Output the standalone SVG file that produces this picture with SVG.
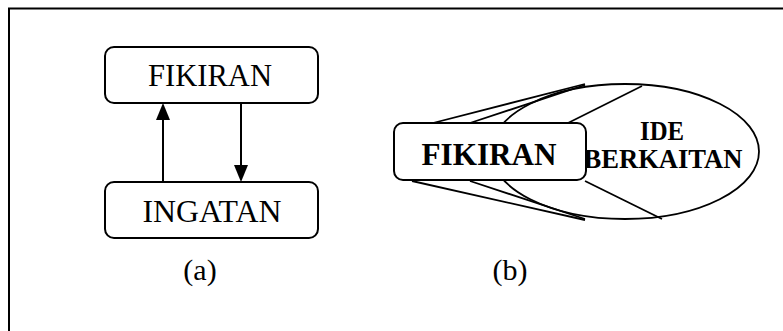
<svg xmlns="http://www.w3.org/2000/svg" width="783" height="331" viewBox="0 0 783 331">
<style>
.box{fill:#fff;stroke:#000;stroke-width:2}
.ln{stroke:#000;stroke-width:2;fill:none}
.lb{stroke:#000;stroke-width:1.8;fill:none}
.head{fill:#000}
.t{font-family:"Liberation Serif","Times New Roman",serif;fill:#000;text-anchor:middle}
.b{font-weight:bold}
</style>
<rect width="783" height="331" fill="#fff"/>
<path d="M9,340 V8.5 H790" class="ln"/>
<g id="node-fikiran-a">
<rect x="105" y="47" width="213" height="56" rx="9" class="box"/>
<text x="210" y="86" class="t" font-size="31" textLength="124" lengthAdjust="spacingAndGlyphs">FIKIRAN</text>
</g>
<g id="node-ingatan">
<rect x="105" y="182" width="213" height="56" rx="9" class="box"/>
<text x="212" y="222" class="t" font-size="31" textLength="139" lengthAdjust="spacingAndGlyphs">INGATAN</text>
</g>
<g id="connectors">
<line x1="163" y1="182" x2="163" y2="118" class="ln"/>
<path class="head" d="M156,120 L170,120 L163,103 Z"/>
<line x1="241" y1="103" x2="241" y2="167" class="ln"/>
<path class="head" d="M234,165 L248,165 L241,182 Z"/>
</g>
<g id="node-ide">
<ellipse cx="625" cy="151.5" rx="134" ry="67.5" class="lb"/>
<text x="662" y="140" class="t b" font-size="27" textLength="44" lengthAdjust="spacingAndGlyphs">IDE</text>
<text x="663" y="168" class="t b" font-size="27" textLength="159" lengthAdjust="spacingAndGlyphs">BERKAITAN</text>
</g>
<g id="connectors-b">
<line x1="433" y1="123" x2="585" y2="84" class="lb"/>
<line x1="470" y1="123" x2="585" y2="85" class="lb"/>
<line x1="568" y1="123" x2="642" y2="86" class="lb"/>
<line x1="412" y1="181" x2="585" y2="220" class="lb"/>
<line x1="470" y1="181" x2="585" y2="219" class="lb"/>
<line x1="585" y1="181" x2="662" y2="219" class="lb"/>
</g>
<g id="node-fikiran-b">
<rect x="394" y="123" width="192" height="57" rx="9" class="box"/>
<text x="489" y="165" class="t b" font-size="31" textLength="135" lengthAdjust="spacingAndGlyphs">FIKIRAN</text>
</g>
<text x="200" y="280" class="t" font-size="30">(a)</text>
<text x="510" y="280" class="t" font-size="30">(b)</text>
</svg>
